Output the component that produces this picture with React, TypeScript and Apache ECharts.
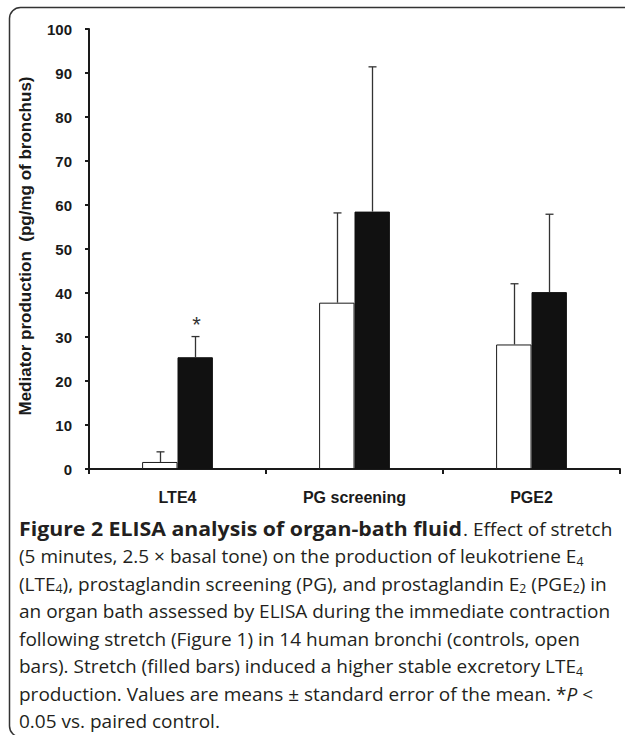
import React, { useEffect, useRef } from "react";
import * as echarts from "echarts";

const categories = ["LTE4", "PG screening", "PGE2"];
const controlMeans = [1.6, 37.8, 28.3];
const controlSEM = [2.3, 20.4, 13.8];
const stretchMeans = [25.4, 58.5, 40.2];
const stretchSEM = [4.7, 32.9, 17.7];
const significance = ["*", "", ""];
const yMin = 0;
const yMax = 100;
const yInterval = 10;
const yTitle = "Mediator production  (pg/mg of bronchus)";
const captionTitle = "Figure 2 ELISA analysis of organ-bath fluid";
const captionLines = [
  ". Effect of stretch",
  "(5 minutes, 2.5 \u00d7 basal tone) on the production of leukotriene E{s|4}",
  "(LTE{s|4}), prostaglandin screening (PG), and prostaglandin E{s|2} (PGE{s|2}) in",
  "an organ bath assessed by ELISA during the immediate contraction",
  "following stretch (Figure 1) in 14 human bronchi (controls, open",
  "bars). Stretch (filled bars) induced a higher stable excretory LTE{s|4}",
  "production. Values are means \u00b1 standard error of the mean. *{i|P} <",
  "0.05 vs. paired control.",
];

const BAR_FRAC = 0.2;
const CHART_FONT = "'Liberation Sans', Arial, sans-serif";
const CAP_FONT = "'Open Sans', sans-serif";

export default function App() {
  const ref = useRef<HTMLDivElement>(null);
  useEffect(() => {
    if (!ref.current) return;
    const chart = echarts.init(ref.current, undefined, { renderer: "svg" });

    const errData: number[][] = [];
    categories.forEach((_, i) => {
      errData.push([i, controlMeans[i], controlSEM[i], -1, i]);
      errData.push([i, stretchMeans[i], stretchSEM[i], 1, i]);
    });

    const capSize = 19;
    const capLH = 22;
    const capColor = "#231f20";
    const capTop = 528.7;
    const capStep = 27.5;
    const capText = { fontSize: 12.3, lineHeight: 11, verticalAlign: "bottom", fontFamily: CAP_FONT, fill: capColor };

    const option: any = {
      animation: false,
      backgroundColor: "#ffffff",
      grid: { left: 89, right: 5, top: 29, bottom: 266, containLabel: false },
      xAxis: {
        type: "category",
        data: categories,
        boundaryGap: true,
        axisLine: { lineStyle: { color: "#1a1a1a", width: 2 } },
        axisTick: { show: true, interval: 0, alignWithLabel: false, length: 5, lineStyle: { color: "#1a1a1a", width: 2 } },
        axisLabel: { color: "#1a1a1a", fontFamily: CHART_FONT, fontWeight: "bold", fontSize: 16, margin: 20, interval: 0 },
        splitLine: { show: false },
      },
      yAxis: {
        type: "value",
        min: yMin,
        max: yMax,
        interval: yInterval,
        name: yTitle,
        nameLocation: "middle",
        nameRotate: 90,
        nameGap: 55,
        nameTextStyle: {
          color: "#1a1a1a",
          fontFamily: CHART_FONT,
          fontWeight: "bold",
          fontSize: 17,
          padding: [0, 0, 0, 6],
        },
        axisLine: { show: true, lineStyle: { color: "#1a1a1a", width: 2 } },
        axisTick: { show: true, length: 4, lineStyle: { color: "#1a1a1a", width: 2 } },
        axisLabel: { color: "#1a1a1a", fontFamily: CHART_FONT, fontWeight: "bold", fontSize: 15, margin: 17 },
        splitLine: { show: false },
      },
      series: [
        {
          name: "Control",
          type: "bar",
          data: controlMeans,
          barWidth: "20%",
          barGap: "0%",
          itemStyle: { color: "#ffffff", borderColor: "#1a1a1a", borderWidth: 1 },
        },
        {
          name: "Stretch",
          type: "bar",
          data: stretchMeans,
          barWidth: "20%",
          barGap: "0%",
          itemStyle: { color: "#111111", borderColor: "#111111", borderWidth: 1 },
        },
        {
          name: "SEM",
          type: "custom",
          z: 5,
          data: errData,
          encode: { x: 0, y: 1 },
          renderItem: (params: any, api: any) => {
            const ci = api.value(0);
            const mean = api.value(1);
            const sem = api.value(2);
            const side = api.value(3);
            const bandW = api.size([1, 0])[0];
            const bw = bandW * BAR_FRAC;
            const p0 = api.coord([ci, mean]);
            const p1 = api.coord([ci, mean + sem]);
            const x = Math.round(p0[0] + (side * bw) / 2) + 0.5;
            const stroke = { stroke: "#333333", lineWidth: 1.3 };
            const children: any[] = [
              { type: "line", shape: { x1: x, y1: p0[1], x2: x, y2: p1[1] }, style: stroke },
              { type: "line", shape: { x1: x - 4, y1: p1[1], x2: x + 4, y2: p1[1] }, style: stroke },
            ];
            if (side > 0 && significance[ci]) {
              children.push({
                type: "text",
                style: {
                  text: significance[ci],
                  x: x + 1,
                  y: p1[1] - 12.5,
                  align: "center",
                  verticalAlign: "middle",
                  fontFamily: CHART_FONT,
                  fontSize: 22,
                  fill: "#333333",
                },
              });
            }
            return { type: "group", children };
          },
        },
      ],
      graphic: [
        {
          type: "rect",
          silent: true,
          shape: { x: 9.5, y: 7.5, width: 660, height: 729.5, r: 11 },
          style: { fill: "none", stroke: "#333333", lineWidth: 1.5 },
          z: 100,
        },
        {
          type: "text",
          x: 19,
          y: capTop,
          scaleX: 1.12,
          style: {
            text: captionTitle,
            fontFamily: CAP_FONT,
            fontSize: 19,
            fontWeight: "bold",
            fill: capColor,
            align: "left",
            verticalAlign: "middle",
          },
        },
        ...captionLines.map((line, i) => ({
          type: "text",
          x: i === 0 ? 463 : 19,
          y: capTop + i * capStep,
          style: {
            text: line,
            fontFamily: CAP_FONT,
            fontSize: capSize,
            lineHeight: capLH,
            fill: capColor,
            align: "left",
            verticalAlign: "middle",
            rich: {
              i: { fontFamily: CAP_FONT, fontSize: capSize, fontStyle: "italic", lineHeight: capLH, fill: capColor },
              s: capText,
            },
          },
        })),
      ],
    };

    chart.setOption(option);
    return () => chart.dispose();
  }, []);

  return (
    <div
      ref={ref}
      style={{ position: "fixed", left: 0, top: 0, width: 625, height: 735, background: "#fff" }}
    />
  );
}
